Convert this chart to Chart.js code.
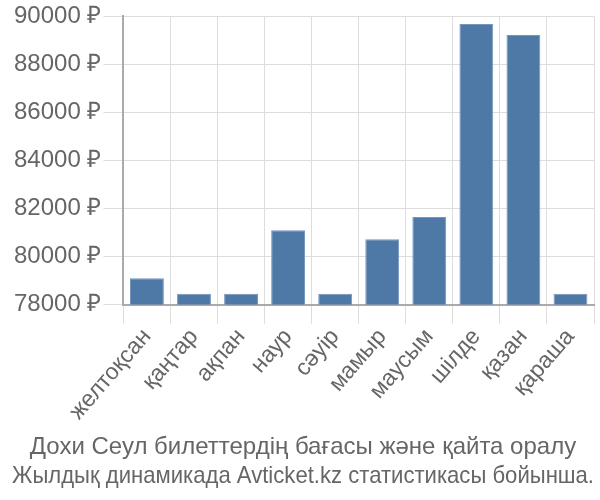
<!DOCTYPE html>
<html>
<head>
<meta charset="utf-8">
<script src="https://cdn.jsdelivr.net/npm/chart.js@4"></script>
<style>
  html, body { margin: 0; padding: 0; background: #fff; }
  #wrap { width: 600px; height: 500px; }
</style>
</head>
<body>
<div id="wrap"><canvas id="chart"></canvas></div>
<script>
const months = ["желтоқсан", "қаңтар", "ақпан", "наур", "сәуір", "мамыр", "маусым", "шілде", "қазан", "қараша"];
const prices = [79100, 78450, 78450, 81090, 78450, 80720, 81650, 89680, 89230, 78450];
const titleLines = ["Дохи Сеул билеттердің бағасы және қайта оралу", "Жылдық динамикада Avticket.kz статистикасы бойынша."];

Chart.defaults.font.family = "'Liberation Sans', Arial, sans-serif";
Chart.defaults.color = "#666";

const ctx = document.getElementById("chart").getContext("2d");
new Chart(ctx, {
  type: "bar",
  data: {
    labels: months,
    datasets: [{
      data: prices,
      backgroundColor: "#4e79a7",
      borderColor: "#7596bd",
      borderWidth: 1,
      categoryPercentage: 0.72,
      barPercentage: 1
    }]
  },
  options: {
    responsive: true,
    maintainAspectRatio: false,
    animation: false,
    layout: { padding: { top: 3, right: 6, bottom: 9, left: 12 } },
    plugins: {
      legend: { display: false },
      tooltip: { enabled: false },
      title: {
        display: true,
        position: "bottom",
        text: titleLines,
        color: "#666",
        font: { size: 24, weight: "normal" },
        padding: { top: 8, bottom: 0 },
        lineHeight: 1.15
      }
    },
    scales: {
      x: {
        grid: { color: "#ddd", tickLength: 19, offset: true },
        border: { color: "#aaa", width: 2 },
        ticks: { font: { size: 23 }, minRotation: 49, maxRotation: 49, padding: 0 }
      },
      y: {
        min: 78000,
        max: 90000,
        grid: { color: "#ddd", tickLength: 20 },
        border: { color: "#aaa", width: 2 },
        ticks: {
          stepSize: 2000,
          font: { size: 24 },
          padding: 2,
          callback: v => v + " ₽"
        }
      }
    }
  }
});
</script>
</body>
</html>
